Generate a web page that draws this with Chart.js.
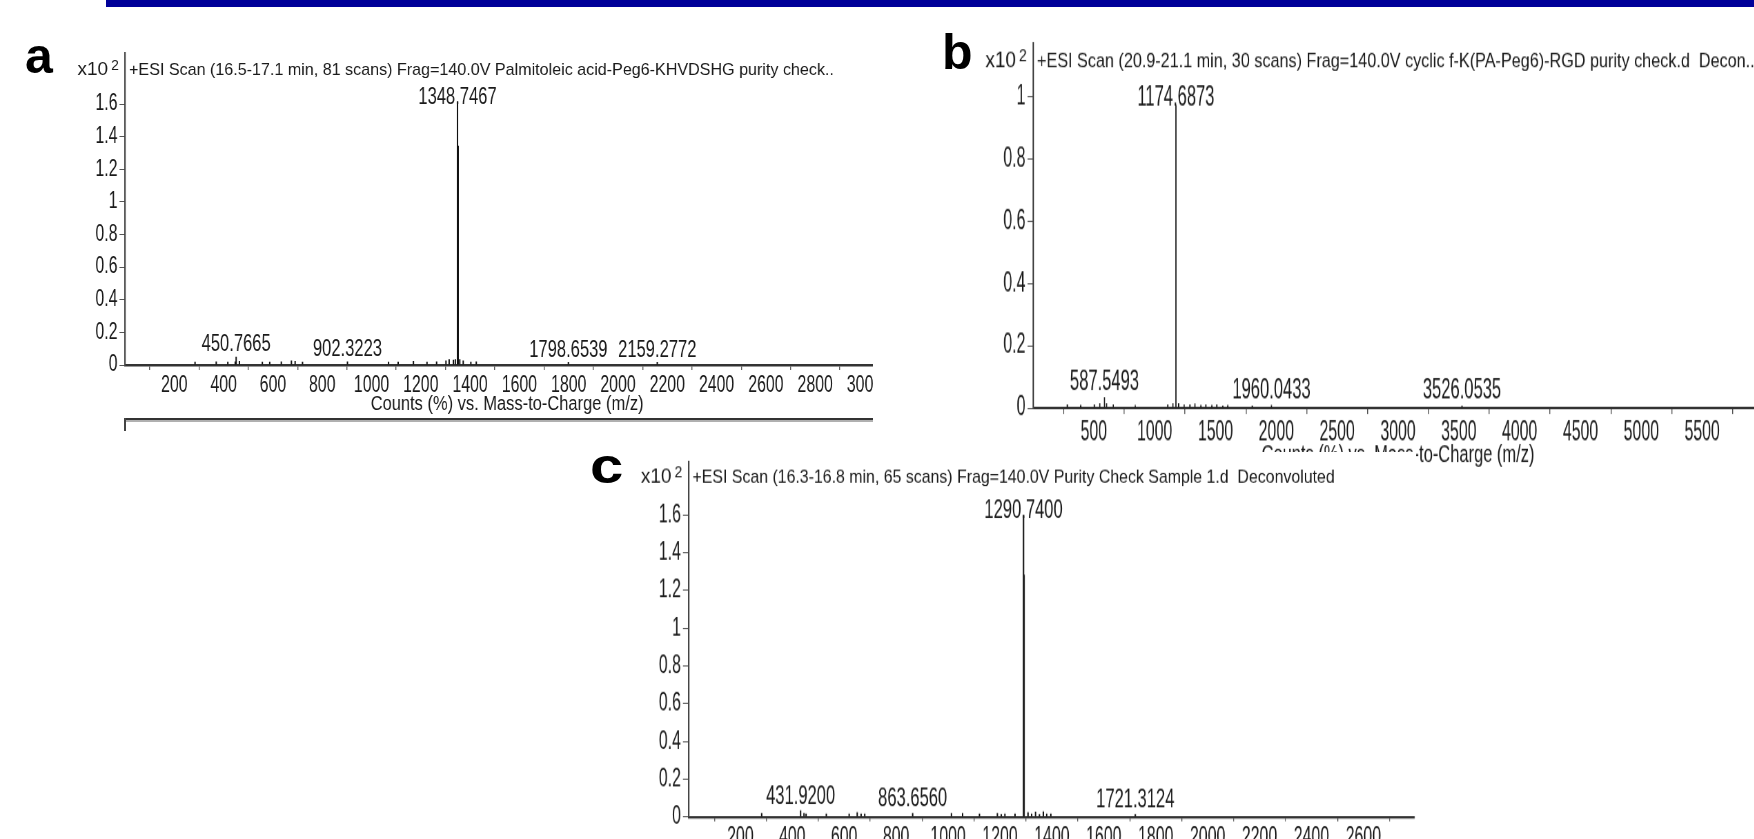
<!DOCTYPE html>
<html>
<head>
<meta charset="utf-8">
<title>ESI deconvoluted spectra</title>
<script src="https://cdn.jsdelivr.net/npm/chart.js@4.4.1/dist/chart.umd.min.js"></script>
<style>
  html, body { margin: 0; padding: 0; background: #fff; width: 1754px; height: 839px; overflow: hidden; position: relative; }
  .topbar { position: absolute; left: 106px; top: 0; width: 1648px; height: 7px; background: #000099; }
  .panel { position: absolute; overflow: hidden; }
  .panel canvas { display: block; transform-origin: 0 0; }
  .letter { position: absolute; z-index: 5; font: bold 50px/50px 'Liberation Sans', Arial, sans-serif; color: #000; transform-origin: 0 0; }
  .frame { position: absolute; left: 124px; top: 418px; width: 749px; height: 2px; background: #333; border-bottom: 2px solid #b0b0b0; }
  .frame-tick { position: absolute; left: 124px; top: 418px; width: 2px; height: 13px; background: #444; }
</style>
</head>
<body>
<div class="topbar"></div>

<div class="panel" style="left:0;top:0;width:873px;height:420px">
  <canvas id="chartA" width="1300" height="420" style="width:1300px;height:420px;transform:scale(0.69,1)"></canvas>
</div>
<div class="frame"></div>
<div class="frame-tick"></div>

<div class="panel" style="left:900px;top:30px;width:854px;height:440px">
  <canvas id="chartB" width="1262" height="365" style="width:1262px;height:365px;transform:scale(0.69,1.2)"></canvas>
</div>

<div class="panel" style="left:590px;top:452px;width:826px;height:387px;background:#fff">
  <canvas id="chartC" width="1197" height="370" style="width:1197px;height:370px;transform:scale(0.69,1.1);background:#fff"></canvas>
</div>

<div class="letter" style="left:25px;top:31px">a</div>
<div class="letter" style="left:942px;top:27px">b</div>
<div class="letter" style="left:590px;top:441px;transform:scaleX(1.2)">c</div>

<script>
const FONT = "'Liberation Sans', Arial, sans-serif";
const INK = '#1a1a1a';

// a: Palmitoleic acid-Peg6-KHVDSHG
const headingA = '+ESI Scan (16.5-17.1 min, 81 scans) Frag=140.0V Palmitoleic acid-Peg6-KHVDSHG purity check..';
const mzA = [284, 370, 417, 447, 450.7665, 464, 557, 587, 634, 675, 690, 720, 902.3223, 1069, 1108, 1170, 1225, 1264,
  1302, 1315, 1332, 1340, 1348.7467, 1351.5, 1358, 1372, 1403, 1425, 1798.6539, 2159.2772];
const countsA = [0.02, 0.022, 0.02, 0.022, 0.05, 0.024, 0.02, 0.02, 0.022, 0.028, 0.024, 0.02, 0.022, 0.02, 0.02, 0.024,
  0.02, 0.022, 0.028, 0.035, 0.032, 0.035, 1.615, 1.345, 0.035, 0.028, 0.02, 0.022, 0.018, 0.018];
const peakLabelsA = [450.7665, 902.3223, 1348.7467, 1798.6539, 2159.2772];
const xTicksA = [0, 200, 400, 600, 800, 1000, 1200, 1400, 1600, 1800, 2000, 2200, 2400, 2600, 2800, 3000];
const yTicksA = [0, 0.2, 0.4, 0.6, 0.8, 1, 1.2, 1.4, 1.6];

// b: cyclic f-K(PA-Peg6)-RGD
const headingB = '+ESI Scan (20.9-21.1 min, 30 scans) Frag=140.0V cyclic f-K(PA-Peg6)-RGD purity check.d  Decon..';
const mzB = [282, 392, 504, 549, 587.5493, 605, 660, 840, 1108, 1150, 1174.6873, 1197, 1242, 1290, 1331, 1380, 1421,
  1470, 1511, 1560, 1601, 1802, 1960.0433, 3526.0535];
const countsB = [0.012, 0.01, 0.012, 0.015, 0.035, 0.015, 0.012, 0.01, 0.012, 0.015, 0.973, 0.015, 0.012, 0.012,
  0.014, 0.01, 0.012, 0.01, 0.012, 0.008, 0.01, 0.008, 0.01, 0.008];
const peakLabelsB = [587.5493, 1174.6873, 1960.0433, 3526.0535];
const xTicksB = [0, 500, 1000, 1500, 2000, 2500, 3000, 3500, 4000, 4500, 5000, 5500];
const yTicksB = [0, 0.2, 0.4, 0.6, 0.8, 1];

// c: Purity Check Sample 1
const headingC = '+ESI Scan (16.3-16.8 min, 65 scans) Frag=140.0V Purity Check Sample 1.d  Deconvoluted';
const mzC = [282, 431.92, 445, 453, 531, 619, 650, 665, 679, 863.656, 1013, 1056, 1121, 1190, 1205, 1219, 1258,
  1290.74, 1293, 1308, 1322, 1337, 1352, 1367, 1380, 1396, 1721.3124];
const countsC = [0.02, 0.035, 0.02, 0.018, 0.018, 0.018, 0.025, 0.018, 0.018, 0.02, 0.02, 0.02, 0.018, 0.02, 0.015,
  0.018, 0.018, 1.6, 1.284, 0.025, 0.018, 0.028, 0.015, 0.03, 0.018, 0.018, 0.015];
const peakLabelsC = [431.92, 863.656, 1290.74, 1721.3124];
const xTicksC = [0, 200, 400, 600, 800, 1000, 1200, 1400, 1600, 1800, 2000, 2200, 2400, 2600];
const yTicksC = [0, 0.2, 0.4, 0.6, 0.8, 1, 1.2, 1.4, 1.6];

Chart.defaults.font.family = FONT;
Chart.defaults.color = INK;

// each canvas is squeezed horizontally by CSS (narrow instrument font),
// s.squeeze is that factor so the heading can be drawn at natural width
function spectrum(id, s) {
  const points = s.mz.map((x, i) => ({ x, y: s.counts[i] }));
  const tallest = Math.max(...s.counts);
  const sx = s.squeeze;

  const annotate = {
    id: 'annotate',
    afterDatasetsDraw(chart) {
      const { ctx, chartArea, scales: { x, y } } = chart;
      ctx.save();
      ctx.fillStyle = INK;

      // peak m/z labels
      ctx.textAlign = 'center';
      ctx.textBaseline = 'middle';
      ctx.font = `24px ${FONT}`;
      s.labels.forEach(m => {
        const h = Math.max(...points.filter(p => Math.abs(p.x - m) < 3).map(p => p.y));
        const gap = h === tallest ? s.gapMain : s.gap;
        ctx.fillText(m.toFixed(4), x.getPixelForValue(m), y.getPixelForValue(h) - gap);
      });

      // scan heading and x10^2 multiplier
      ctx.save();
      ctx.scale(1 / sx, 1);
      const axisX = chartArea.left * sx;
      const base = chartArea.top + s.headGap;
      ctx.textBaseline = 'alphabetic';
      ctx.textAlign = 'left';
      ctx.font = `${s.headSize}px ${FONT}`;
      ctx.fillText(s.heading, axisX + 4, base);
      ctx.textAlign = 'right';
      ctx.font = `19px ${FONT}`;
      ctx.fillText('x10', axisX - 17, base);
      ctx.textAlign = 'left';
      ctx.font = `14px ${FONT}`;
      ctx.fillText('2', axisX - 14, base - 5);
      ctx.restore();

      // axis caption
      if (s.xTitle) {
        const k = 0.85 / sx;
        ctx.save();
        ctx.scale(k, 1);
        ctx.textAlign = 'center';
        ctx.textBaseline = 'middle';
        ctx.font = `19.4px ${FONT}`;
        ctx.fillText('Counts (%) vs. Mass-to-Charge (m/z)', (chartArea.left + chartArea.right) / 2 / k, chartArea.bottom + 40);
        ctx.restore();
      }
      ctx.restore();
    }
  };

  const ctx = document.getElementById(id).getContext('2d');
  return new Chart(ctx, {
    type: 'bar',
    data: {
      datasets: [{
        data: points,
        backgroundColor: '#111',
        borderWidth: 0,
        barThickness: s.bar,
        inflateAmount: 0
      }]
    },
    options: {
      responsive: false,
      animation: false,
      events: [],
      layout: { padding: { top: s.top, right: s.right, left: 0, bottom: 0 } },
      plugins: { legend: { display: false }, tooltip: { enabled: false } },
      scales: {
        x: {
          type: 'linear',
          min: 0,
          max: s.xMax,
          offset: false,
          afterBuildTicks: scale => { scale.ticks = s.xTicks.map(v => ({ value: v })); },
          afterFit: scale => { scale.height = s.bottom; scale.paddingLeft = 0; scale.paddingRight = 0; },
          ticks: {
            autoSkip: false,
            maxRotation: 0,
            padding: s.xPad,
            font: { size: 23 },
            color: INK,
            callback: v => (v === 0 ? '' : String(v))
          },
          grid: { drawOnChartArea: false, drawTicks: true, tickLength: s.xTick, color: '#555', lineWidth: 1.4 },
          border: { color: '#333', width: s.xLine }
        },
        y: {
          min: 0,
          max: s.yMax,
          afterBuildTicks: scale => { scale.ticks = s.yTicks.map(v => ({ value: v })); },
          afterFit: scale => { scale.width = s.left; scale.paddingTop = 0; scale.paddingBottom = 0; },
          ticks: {
            autoSkip: false,
            padding: 3,
            font: { size: 23 },
            color: INK,
            callback: v => String(+v.toFixed(1))
          },
          grid: { drawOnChartArea: false, drawTicks: true, tickLength: 8, color: '#555', lineWidth: 1 },
          border: { color: '#444', width: 2.2 }
        }
      }
    },
    plugins: [annotate]
  });
}

spectrum('chartA', {
  mz: mzA, counts: countsA, labels: peakLabelsA, heading: headingA,
  xTicks: xTicksA, yTicks: yTicksA, xMax: 3100, yMax: 1.913,
  squeeze: 0.69, top: 53, right: 11.4, left: 181.2, bottom: 55,
  xTick: 5, xPad: 2.2, xLine: 2.5, headGap: 22, headSize: 16.1,
  bar: 2, gap: 12, gapMain: 4.5, xTitle: true
});

spectrum('chartB', {
  mz: mzB, counts: countsB, labels: peakLabelsB, heading: headingB,
  xTicks: xTicksB, yTicks: yTicksB, xMax: 6000, yMax: 1.172,
  squeeze: 0.69, top: 10.8, right: 11.3, left: 192.75, bottom: 50,
  xTick: 5, xPad: 2, xLine: 2.1, headGap: 20, headSize: 16.2,
  bar: 1.7, gap: 12.5, gapMain: 5.8, xTitle: true
});

spectrum('chartC', {
  mz: mzC, counts: countsC, labels: peakLabelsC, heading: headingC,
  xTicks: xTicksC, yTicks: yTicksC, xMax: 2795, yMax: 1.881,
  squeeze: 0.69, top: 9.1, right: 2.8, left: 142.75, bottom: 38.2,
  xTick: 4, xPad: 1.3, xLine: 2.3, headGap: 19, headSize: 15.9,
  bar: 2, gap: 12.5, gapMain: 4, xTitle: false
});
</script>
</body>
</html>
